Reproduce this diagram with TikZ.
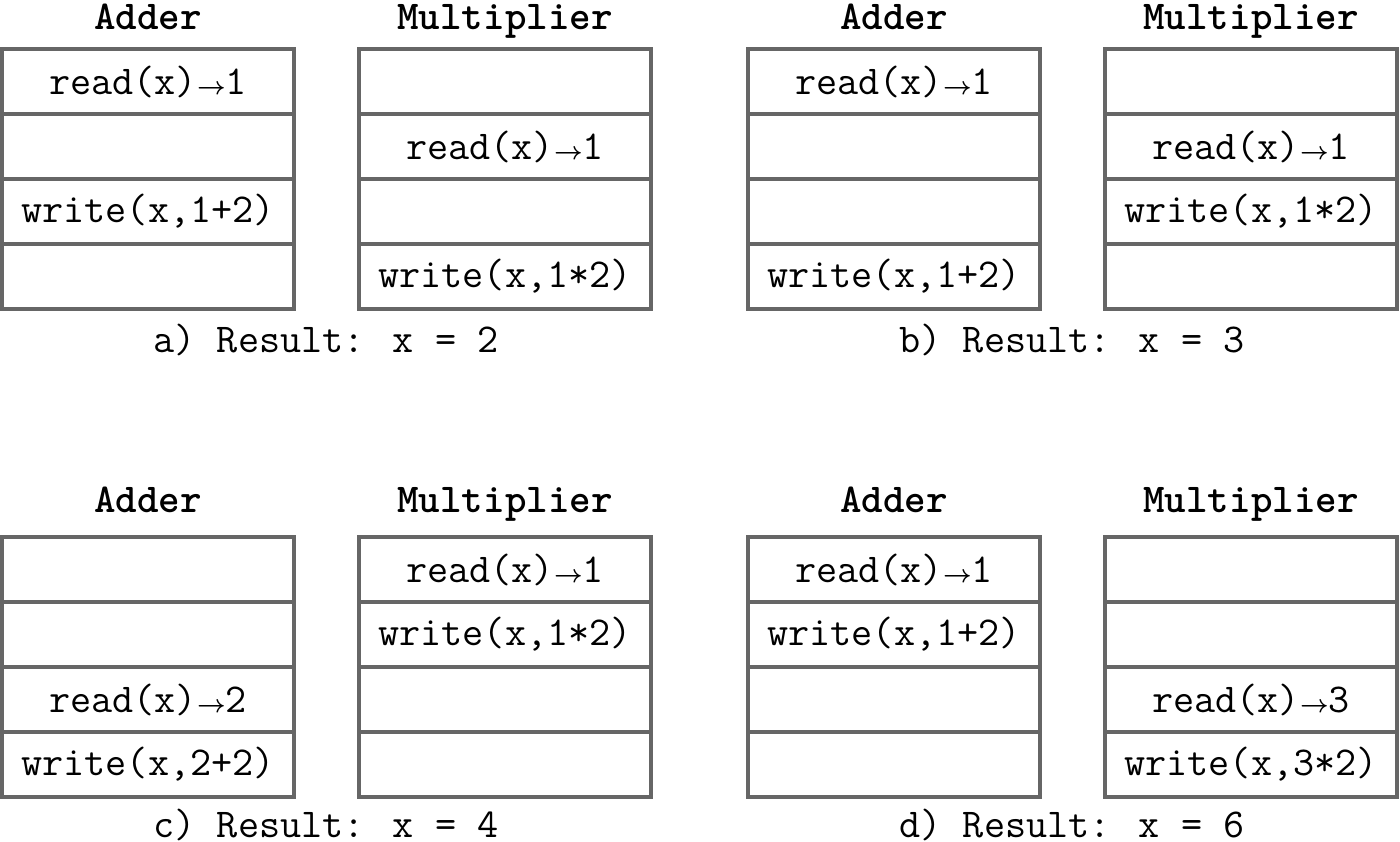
\documentclass[tikz,border=0pt]{standalone}
\begin{document}
\begin{tikzpicture}[x=1pt,y=-1pt,
  cell/.style={draw=black!60,line width=4pt,minimum width=292pt,minimum height=65pt,inner sep=0pt,font=\fontsize{41}{48}\selectfont\ttfamily},
  head/.style={inner sep=0pt,text height=26pt,text depth=0pt,font=\fontsize{41}{48}\selectfont\ttfamily\bfseries},
  res/.style={inner sep=0pt,text height=26pt,text depth=0pt,font=\fontsize{41}{48}\selectfont\ttfamily}]
\useasboundingbox (0,0) rectangle (1400,841);
\newcommand{\ar}{{\boldmath$\rightarrow$}}
\newcommand{\tbl}[7]{%
  \node[cell] (#1-1) at (#2+146,#3+32.5) {#4};
  \node[cell] (#1-2) at (#2+146,#3+97.5) {#5};
  \node[cell] (#1-3) at (#2+146,#3+162.5) {#6};
  \node[cell] (#1-4) at (#2+146,#3+227.5) {#7};}
% panel a
\node[head] (ha1) at (148,16) {Adder};
\node[head] (hm1) at (505,16) {Multiplier};
\tbl{aA}{2}{49}{read(x)\ar1}{}{write(x,1+2)}{}
\tbl{aM}{359}{49}{}{read(x)\ar1}{}{write(x,1*2)}
\node[res] (ra) at (326,339) {a) Result: x = 2};
% panel b
\node[head] (ha2) at (894,16) {Adder};
\node[head] (hm2) at (1251,16) {Multiplier};
\tbl{bA}{748}{49}{read(x)\ar1}{}{}{write(x,1+2)}
\tbl{bM}{1105}{49}{}{read(x)\ar1}{write(x,1*2)}{}
\node[res] (rb) at (1072,339) {b) Result: x = 3};
% panel c
\node[head] (ha3) at (148,499) {Adder};
\node[head] (hm3) at (505,499) {Multiplier};
\tbl{cA}{2}{537}{}{}{read(x)\ar2}{write(x,2+2)}
\tbl{cM}{359}{537}{read(x)\ar1}{write(x,1*2)}{}{}
\node[res] (rc) at (326,824) {c) Result: x = 4};
% panel d
\node[head] (ha4) at (894,499) {Adder};
\node[head] (hm4) at (1251,499) {Multiplier};
\tbl{dA}{748}{537}{read(x)\ar1}{write(x,1+2)}{}{}
\tbl{dM}{1105}{537}{}{}{read(x)\ar3}{write(x,3*2)}
\node[res] (rd) at (1072,824) {d) Result: x = 6};
\end{tikzpicture}
\end{document}
